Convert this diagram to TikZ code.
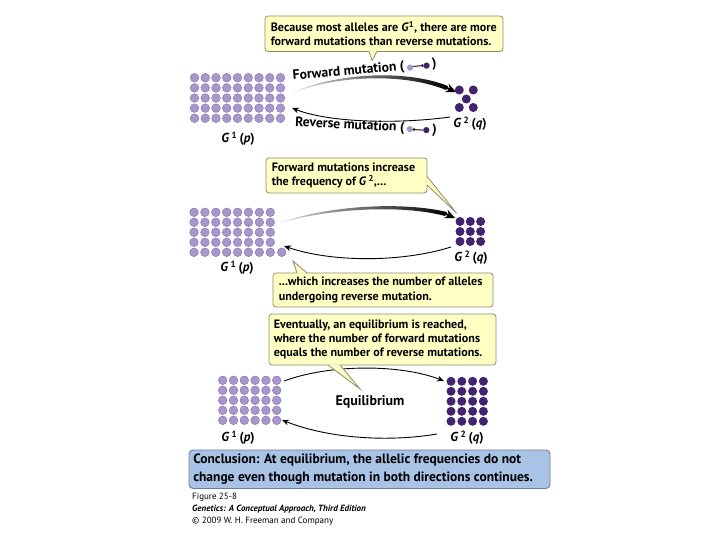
\documentclass[tikz,border=0pt]{standalone}
\usepackage{fontspec}
\setmainfont{PT Sans}
\newfontfamily\dejavu{DejaVu Sans}
\usetikzlibrary{arrows.meta,calc}
\definecolor{lightdot}{HTML}{A897CB}
\definecolor{lightedge}{HTML}{8A78B4}
\definecolor{darkdot}{HTML}{43226F}
\definecolor{callyellow}{HTML}{FFFFC4}
\definecolor{calledge}{HTML}{8C8C70}
\definecolor{concblue}{HTML}{A9C3E6}
\definecolor{concedge}{HTML}{6F7F95}
\newcommand{\gone}{\textit{G}\,\textsuperscript{1}\,(\textit{p})}
\newcommand{\gtwo}{\textit{G}\,\textsuperscript{2}\,(\textit{q})}
\begin{document}
\begin{tikzpicture}[x=1pt,y=-1pt,
  ldot/.style={circle, fill=lightdot, draw=lightedge, line width=0.5pt, minimum size=8.6pt, inner sep=0pt},
  ddot/.style={circle, fill=darkdot, minimum size=9pt, inner sep=0pt},
  callbox/.style={draw=calledge, fill=callyellow, rounded corners=3pt, line width=0.8pt, inner sep=0pt},
  calltext/.style={anchor=west, inner sep=0pt, align=left, font=\bfseries\fontsize{12.1}{14.2}\selectfont},
  tailfill/.style={fill=callyellow},
  tailline/.style={draw=calledge, line width=0.8pt},
  glabel/.style={font=\bfseries\fontsize{13}{15}\selectfont, inner sep=0pt},
  mutlabel/.style={font=\bfseries\fontsize{13.6}{15}\selectfont, inner sep=0pt},
  thinarrow/.style={line width=0.9pt, -{Stealth[length=7pt,width=6pt]}},
  headarrow/.style={line width=2pt, -{Stealth[length=10pt,width=9pt]}},
  caption/.style={font=\fontsize{9}{10}\selectfont, inner sep=0pt, anchor=base west}
]
\useasboundingbox (0,0) rectangle (720,540);
\fill[white] (0,0) rectangle (720,540);

% ---------------- Panel 1 ----------------
\foreach \i in {0,...,8} \foreach \j in {0,...,4}
  \node[ldot] (pa-\i-\j) at ({194.5+10.75*\i},{77.7+10.15*\j}) {};
\node[ddot] (qa1) at (459.3,90) {};
\node[ddot] (qa2) at (473.3,90) {};
\node[ddot] (qa3) at (466.3,99) {};
\node[ddot] (qa4) at (459.3,107.5) {};
\node[ddot] (qa5) at (473.3,107.5) {};
\node[glabel] (ga1) at (238,139) {\gone};
\node[glabel] (ga2) at (470,124) {\gtwo};

\coordinate (fa-s) at (292,93);
\coordinate (fa-e) at (447,88);
\coordinate (fa-t) at (456,92);
\shade[left color=black!15, right color=black]
  (fa-s) .. controls (335,73) and (405,69) .. (447.9,86)
  -- (446.1,90) .. controls (405,73) and (337,75) .. (fa-s) -- cycle;
\draw[headarrow] (fa-e) -- (fa-t);

\coordinate (ra-s) at (450,117);
\coordinate (ra-e) at (292,108);
\draw[thinarrow] (ra-s) .. controls (400,124) and (330,123) .. (ra-e);

\node[mutlabel, anchor=base west, rotate=5] (fwdlbl) at (293,80)
  {Forward mutation (\,{\dejavu\fontsize{8}{8}\selectfont\textcolor{lightdot}{●}\hspace{-1pt}⟶\hspace{-1pt}\textcolor{darkdot}{●}}\,)};
\node[mutlabel, anchor=base west, rotate=-3] (revlbl) at (295,126)
  {Reverse mutation (\,{\dejavu\fontsize{8}{8}\selectfont\textcolor{lightdot}{●}\hspace{-1pt}⟵\hspace{-1pt}\textcolor{darkdot}{●}}\,)};

\node[callbox, minimum width=238pt, minimum height=35.5pt] (cb1) at (384,33.75) {};
\node[calltext] (cb1t) at ($(cb1.west)+(6,0)$)
  {Because most alleles are \textit{G}\textsuperscript{1}, there are more\\forward mutations than reverse mutations.};
\coordinate (t1a) at (369,51.5);
\coordinate (t1b) at (377,51.5);
\coordinate (t1c) at (372,60.5);
\fill[tailfill] (369,50.9) -- (t1c) -- (377,50.9) -- cycle;
\draw[tailline] (t1a) -- (t1c) -- (t1b);

% ---------------- Panel 2 ----------------
\foreach \i in {0,...,7} \foreach \j in {0,...,4}
  \node[ldot] (pb-\i-\j) at ({194+10.9*\i},{212.3+10*\j}) {};
\node[ldot] (pb-extra) at (281.7,252.3) {};
\foreach \i in {0,1,2} \foreach \j in {0,1,2}
  \node[ddot] (qb-\i-\j) at ({460+10.3*\i},{221.5+10*\j}) {};
\node[glabel] (gb1) at (237,268) {\gone};
\node[glabel] (gb2) at (471,258) {\gtwo};

\coordinate (fb-s) at (280,223);
\coordinate (fb-e) at (446,214);
\coordinate (fb-t) at (455,218);
\shade[left color=black!15, right color=black]
  (fb-s) .. controls (325,206) and (400,201) .. (446.9,212)
  -- (445.1,216) .. controls (400,204) and (327,209) .. (fb-s) -- cycle;
\draw[headarrow] (fb-e) -- (fb-t);

\coordinate (rb-s) at (451,247);
\coordinate (rb-e) at (284,246);
\draw[thinarrow] (rb-s) .. controls (400,263) and (330,262) .. (rb-e);

\node[callbox, minimum width=161pt, minimum height=35pt] (cb2) at (346.5,175.5) {};
\node[calltext] (cb2t) at ($(cb2.west)+(6,0)$)
  {Forward mutations increase\\the frequency of \textit{G}\,\textsuperscript{2},...};
\coordinate (t2a) at (427,176.5);
\coordinate (t2b) at (427,185);
\coordinate (t2c) at (456.5,213);
\fill[tailfill] (426.4,176.5) -- (t2c) -- (426.4,185) -- cycle;
\draw[tailline] (t2a) -- (t2c) -- (t2b);

\node[callbox, minimum width=220pt, minimum height=34pt] (cb3) at (383,290) {};
\node[calltext] (cb3t) at ($(cb3.west)+(6,0)$)
  {...which increases the number of alleles\\undergoing reverse mutation.};
\coordinate (t3a) at (297,273);
\coordinate (t3b) at (307,273);
\coordinate (t3c) at (293,261);
\fill[tailfill] (297,273.6) -- (t3c) -- (307,273.6) -- cycle;
\draw[tailline] (t3a) -- (t3c) -- (t3b);

% ---------------- Panel 3 ----------------
\foreach \i in {0,...,5} \foreach \j in {0,...,4}
  \node[ldot] (pc-\i-\j) at ({222.7+10.8*\i},{380.3+10*\j}) {};
\foreach \i in {0,...,3} \foreach \j in {0,...,4}
  \node[ddot] (qc-\i-\j) at ({451+10.8*\i},{381.3+10*\j}) {};
\node[glabel] (gc1) at (238,438) {\gone};
\node[glabel] (gc2) at (467,438) {\gtwo};

\coordinate (fc-s) at (284,381);
\coordinate (fc-e) at (444,381);
\draw[thinarrow] (fc-s) .. controls (330,364) and (400,364) .. (fc-e);
\coordinate (rc-s) at (437,434);
\coordinate (rc-e) at (282,420);
\draw[thinarrow] (rc-s) .. controls (390,442) and (330,439) .. (rc-e);

\node[font=\bfseries\fontsize{14}{16}\selectfont, inner sep=0pt] (eq) at (370,402) {Equilibrium};

\node[callbox, minimum width=227pt, minimum height=51pt] (cb4) at (382.5,339.5) {};
\node[calltext] (cb4t) at ($(cb4.west)+(5,0)$)
  {Eventually, an equilibrium is reached,\\where the number of forward mutations\\equals the number of reverse mutations.};
\coordinate (t4a) at (328,365);
\coordinate (t4b) at (340,365);
\coordinate (t4c) at (360,389);
\fill[tailfill] (328,364.4) -- (t4c) -- (340,364.4) -- cycle;
\draw[tailline] (t4a) -- (t4c) -- (t4b);

% ---------------- Conclusion ----------------
\node[draw=concedge, fill=concblue, rounded corners=4pt, line width=0.9pt,
      minimum width=361pt, minimum height=38.5pt, inner sep=0pt] (concl) at (369.5,469.25) {};
\node[anchor=west, inner sep=0pt, align=left, font=\bfseries\fontsize{13.5}{17.5}\selectfont] (conclt) at ($(concl.west)+(4.5,0)$)
  {Conclusion: At equilibrium, the allelic frequencies do not\\change even though mutation in both directions continues.};

\node[caption] (cap1) at (192,499) {Figure 25-8};
\node[caption, font=\fontsize{9}{10}\selectfont\bfseries\itshape] (cap2) at (192,511) {Genetics: A Conceptual Approach, Third Edition};
\node[caption] (cap3) at (192,523) {© 2009 W. H. Freeman and Company};
\end{tikzpicture}
\end{document}
